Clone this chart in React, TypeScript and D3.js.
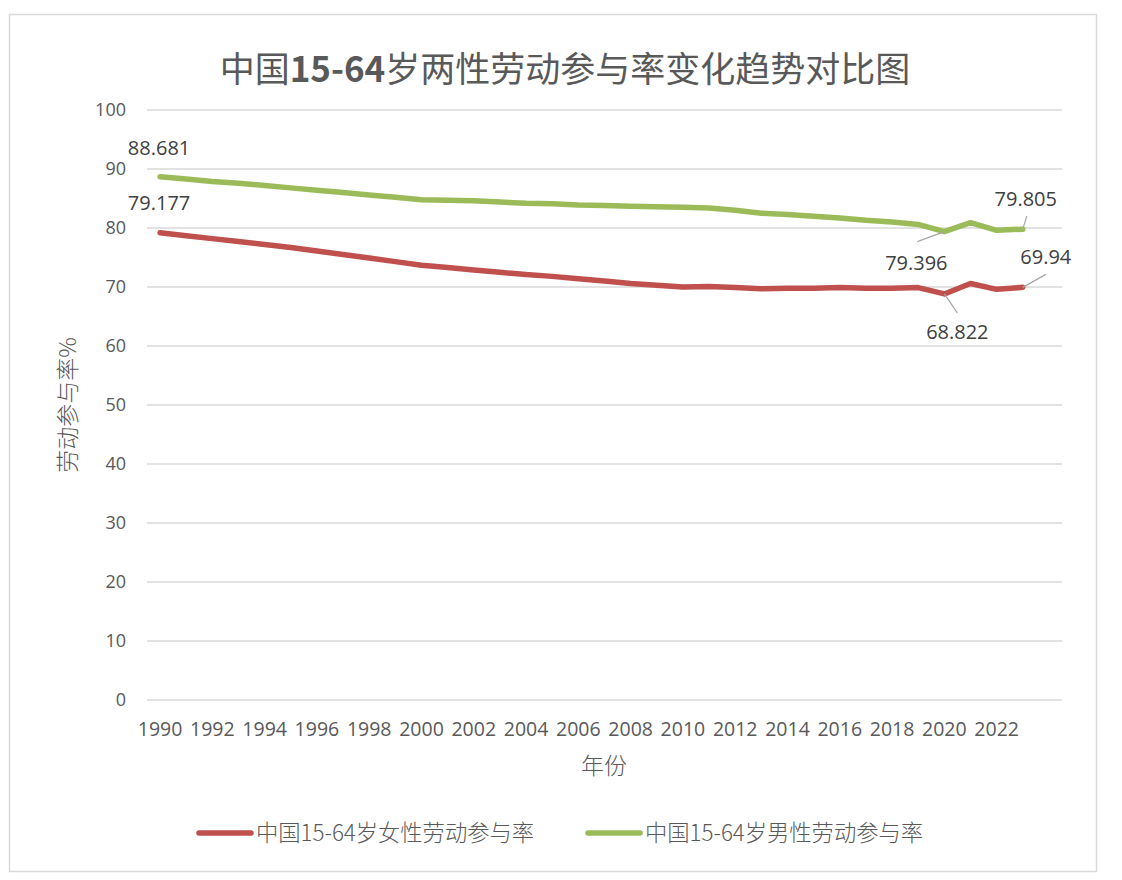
import React from "react";
import * as d3 from "d3";

const years: number[] = d3.range(1990, 2025);
const femaleRate: (number | null)[] = [
  79.177, 78.7, 78.2, 77.7, 77.2, 76.7, 76.1, 75.5, 74.9, 74.3,
  73.7, 73.3, 72.9, 72.5, 72.1, 71.8, 71.4, 71.0, 70.6, 70.3,
  70.0, 70.1, 69.9, 69.7, 69.8, 69.8, 69.9, 69.8, 69.8, 69.9,
  68.822, 70.6, 69.6, 69.94, null,
];
const maleRate: (number | null)[] = [
  88.681, 88.3, 87.9, 87.6, 87.2, 86.8, 86.4, 86.0, 85.6, 85.2,
  84.8, 84.7, 84.6, 84.4, 84.2, 84.1, 83.9, 83.8, 83.7, 83.6,
  83.5, 83.4, 83.0, 82.5, 82.3, 82.0, 81.7, 81.3, 81.0, 80.6,
  79.396, 80.9, 79.6, 79.805, null,
];
const yTicks: number[] = [0, 10, 20, 30, 40, 50, 60, 70, 80, 90, 100];
const xTickYears: number[] = d3.range(1990, 2023, 2);
const seriesNames: string[] = ["中国15-64岁女性劳动参与率", "中国15-64岁男性劳动参与率"];
const seriesColors: string[] = ["#c0504d", "#9bbb59"];
const titleParts: string[] = ["中国", "15-64", "岁两性劳动参与率变化趋势对比图"];
const yTitle = "劳动参与率%";
const xTitle = "年份";

// labelled points (layout config): label centre offset and leader end offset
const labels: { s: number; year: number; lx: number; ly: number; ex?: number; ey?: number }[] = [
  { s: 1, year: 1990, lx: -1, ly: -29 },
  { s: 0, year: 1990, lx: -1, ly: -30 },
  { s: 1, year: 2020, lx: -28, ly: 31, ex: 1, ey: -21 },
  { s: 1, year: 2023, lx: 3, ly: -30, ex: 1, ey: 17 },
  { s: 0, year: 2020, lx: 13, ly: 38, ex: 0, ey: -19 },
  { s: 0, year: 2023, lx: 23, ly: -30, ex: 0, ey: 17 },
];

const FONT = "'Open Sans', sans-serif";
const CJK = "'Noto Sans CJK SC', sans-serif";

export default function App() {
  const W = 1122, H = 880;
  const x = d3.scaleBand<number>().domain(years).range([147, 1062]);
  const y = d3.scaleLinear().domain([0, 100]).range([700, 110]);
  const cx = (yr: number) => (x(yr) as number) + x.bandwidth() / 2;
  const series = [femaleRate, maleRate];
  const line = d3
    .line<number | null>()
    .defined((d) => d !== null)
    .x((_, i) => cx(years[i]))
    .y((d) => y(d as number))
    .curve(d3.curveLinear);

  return (
    <svg
      width={W}
      height={H}
      style={{ position: "absolute", left: 0, top: 0, background: "#fff" }}
    >
      <rect x={9.5} y={14.5} width={1087} height={857} fill="#fff" stroke="#d9d9d9" strokeWidth={1.5} />
      <text x={565} y={82} textAnchor="middle" fontFamily={CJK} fontSize={35} fill="#595959">
        <tspan>{titleParts[0]}</tspan>
        <tspan fontWeight={600}>{titleParts[1]}</tspan>
        <tspan>{titleParts[2]}</tspan>
      </text>
      {yTicks.map((t) => (
        <g key={t}>
          <line x1={147} x2={1062} y1={y(t)} y2={y(t)} stroke="#d9d9d9" strokeWidth={1.3} />
          <text x={126} y={y(t)} dy="0.35em" textAnchor="end" fontFamily={FONT} fontSize={18} fill="#595959">
            {t}
          </text>
        </g>
      ))}
      {xTickYears.map((yr) => (
        <text key={yr} x={cx(yr)} y={729} dy="0.35em" textAnchor="middle" fontFamily={FONT} fontSize={19.5} fill="#595959">
          {yr}
        </text>
      ))}
      <text x={604} y={766} dy="0.35em" textAnchor="middle" fontFamily={CJK} fontSize={23} fontWeight={300} fill="#595959">
        {xTitle}
      </text>
      <text
        transform={`translate(68,405) rotate(-90)`}
        dy="0.35em"
        textAnchor="middle"
        fontFamily={CJK}
        fontSize={23}
        fontWeight={300}
        fill="#595959"
      >
        {yTitle}
      </text>
      {series.map((s, i) => (
        <path
          key={i}
          d={line(s) || ""}
          fill="none"
          stroke={seriesColors[i]}
          strokeWidth={5.5}
          strokeLinejoin="round"
          strokeLinecap="round"
        />
      ))}
      {labels.map((l, k) => {
        const idx = years.indexOf(l.year);
        const v = series[l.s][idx] as number;
        const px = cx(l.year), py = y(v);
        const tx = px + l.lx, ty = py + l.ly;
        return (
          <g key={k}>
            {l.ex !== undefined && (
              <line x1={px} y1={py} x2={tx + (l.ex as number)} y2={ty + (l.ey as number)} stroke="#a6a6a6" strokeWidth={1.2} />
            )}
            <text x={tx} y={ty} dy="0.35em" textAnchor="middle" fontFamily={FONT} fontSize={20} fill="#404040">
              {v}
            </text>
          </g>
        );
      })}
      {seriesNames.map((n, i) => {
        const lx = i === 0 ? 199 : 588;
        return (
          <g key={n}>
            <line x1={lx} x2={lx + 52} y1={833} y2={833} stroke={seriesColors[i]} strokeWidth={5.5} strokeLinecap="round" />
            <text x={lx + 57} y={833} dy="0.35em" fontFamily={CJK} fontSize={22.3} fontWeight={300} fill="#595959">
              {n}
            </text>
          </g>
        );
      })}
    </svg>
  );
}
